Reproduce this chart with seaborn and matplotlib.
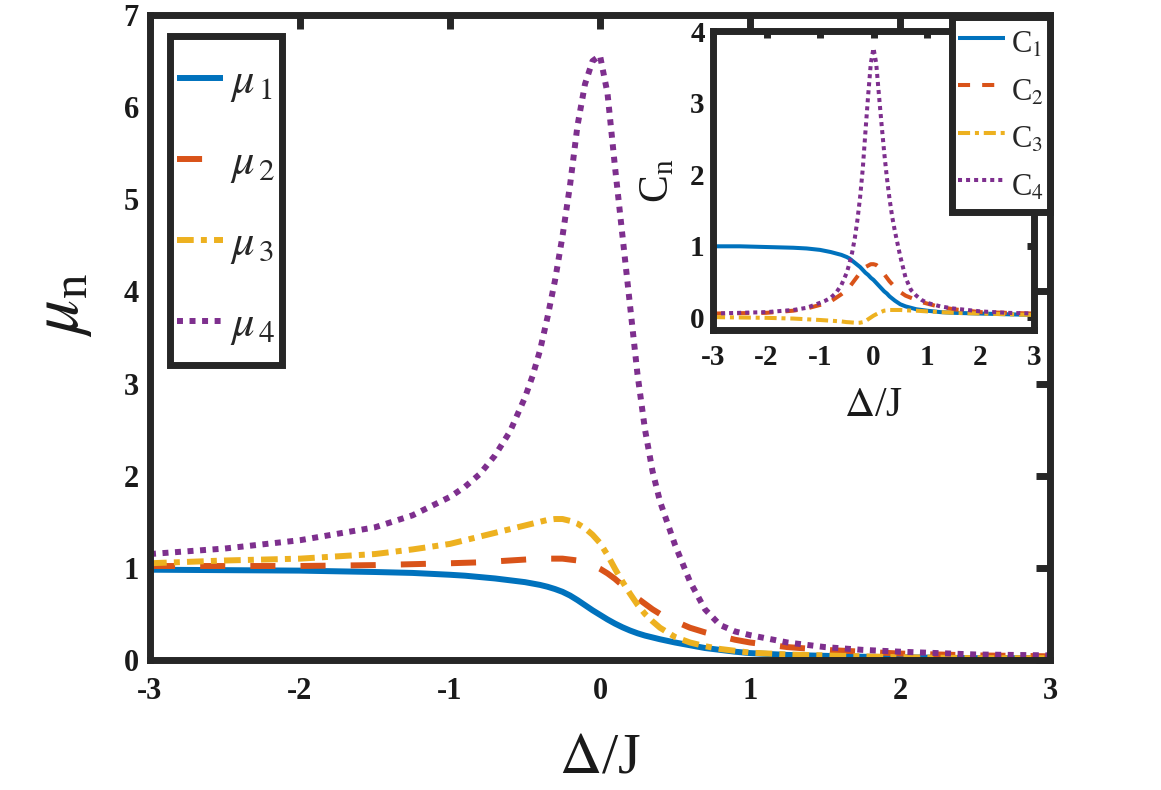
import numpy as np
import pandas as pd
import matplotlib
matplotlib.use("Agg")
import matplotlib.pyplot as plt
from matplotlib.legend_handler import HandlerLine2D
from matplotlib.lines import Line2D
import seaborn as sns

# ---------------- data ----------------
delta = [-3, -2.5, -2, -1.5, -1.25, -1, -0.9, -0.8, -0.7, -0.6, -0.5, -0.45, -0.4, -0.35,
         -0.3, -0.25, -0.2, -0.15, -0.1, -0.05, 0, 0.05, 0.1, 0.15, 0.2, 0.25, 0.3, 0.35,
         0.4, 0.5, 0.6, 0.7, 0.8, 0.9, 1.0, 1.25, 1.5, 1.75, 2, 2.5, 3]

mu1 = [0.98, 0.975, 0.97, 0.955, 0.945, 0.925, 0.915, 0.90, 0.885, 0.865, 0.845, 0.83, 0.815, 0.795,
       0.77, 0.74, 0.70, 0.65, 0.595, 0.54, 0.49, 0.44, 0.395, 0.355, 0.32, 0.29, 0.265, 0.245,
       0.225, 0.19, 0.16, 0.13, 0.11, 0.09, 0.075, 0.055, 0.045, 0.035, 0.03, 0.02, 0.02]
mu2 = [1.02, 1.02, 1.02, 1.03, 1.04, 1.05, 1.055, 1.06, 1.07, 1.08, 1.09, 1.095, 1.10, 1.10,
       1.10, 1.10, 1.09, 1.08, 1.06, 1.03, 0.99, 0.94, 0.88, 0.81, 0.74, 0.67, 0.61, 0.55,
       0.50, 0.42, 0.35, 0.30, 0.26, 0.22, 0.19, 0.14, 0.11, 0.09, 0.07, 0.05, 0.04]
mu3 = [1.05, 1.08, 1.10, 1.15, 1.20, 1.26, 1.30, 1.34, 1.38, 1.42, 1.46, 1.48, 1.50, 1.52,
       1.53, 1.53, 1.51, 1.48, 1.43, 1.36, 1.27, 1.14, 0.99, 0.85, 0.72, 0.60, 0.50, 0.42,
       0.35, 0.25, 0.19, 0.15, 0.12, 0.10, 0.08, 0.06, 0.05, 0.04, 0.03, 0.02, 0.02]
mu4 = [1.15, 1.21, 1.30, 1.44, 1.57, 1.77, 1.88, 2.02, 2.22, 2.48, 2.85, 3.08, 3.36, 3.72,
       4.12, 4.60, 5.15, 5.80, 6.25, 6.50, 6.56, 6.15, 5.35, 4.60, 3.85, 3.10, 2.50, 2.05,
       1.72, 1.25, 0.85, 0.55, 0.38, 0.31, 0.27, 0.19, 0.14, 0.11, 0.09, 0.06, 0.05]

c1 = [0.99, 0.99, 0.98, 0.97, 0.96, 0.94, 0.925, 0.91, 0.89, 0.87, 0.84, 0.82, 0.79, 0.76,
      0.73, 0.70, 0.66, 0.62, 0.59, 0.55, 0.52, 0.48, 0.44, 0.40, 0.36, 0.33, 0.29, 0.26,
      0.23, 0.18, 0.15, 0.13, 0.11, 0.10, 0.09, 0.07, 0.06, 0.055, 0.05, 0.04, 0.03]
c2 = [0.05, 0.055, 0.06, 0.09, 0.12, 0.17, 0.19, 0.22, 0.27, 0.32, 0.38, 0.42, 0.47, 0.52,
      0.57, 0.62, 0.66, 0.70, 0.72, 0.74, 0.74, 0.73, 0.70, 0.65, 0.60, 0.55, 0.50, 0.46,
      0.42, 0.35, 0.30, 0.27, 0.24, 0.21, 0.19, 0.14, 0.11, 0.09, 0.07, 0.06, 0.05]
c3 = [0.0, -0.005, -0.01, -0.02, -0.03, -0.04, -0.045, -0.05, -0.055, -0.06, -0.07, -0.072, -0.075, -0.078,
      -0.08, -0.078, -0.07, -0.055, -0.03, -0.005, 0.02, 0.04, 0.06, 0.075, 0.09, 0.095, 0.10, 0.10,
      0.10, 0.10, 0.095, 0.092, 0.09, 0.085, 0.08, 0.07, 0.06, 0.055, 0.05, 0.04, 0.03]
c4 = [0.05, 0.06, 0.07, 0.10, 0.13, 0.20, 0.23, 0.27, 0.34, 0.45, 0.62, 0.75, 0.90, 1.10,
      1.36, 1.68, 2.08, 2.60, 3.10, 3.55, 3.76, 3.55, 3.12, 2.70, 2.30, 1.95, 1.65, 1.40,
      1.20, 0.85, 0.55, 0.38, 0.30, 0.24, 0.20, 0.15, 0.12, 0.10, 0.08, 0.06, 0.05]

main_labels = [r'$\mu_{\,1}$', r'$\mu_{\,2}$', r'$\mu_{\,3}$', r'$\mu_{\,4}$']
inset_labels = [r'$\mathregular{C}_{1}$', r'$\mathregular{C}_{2}$',
                r'$\mathregular{C}_{3}$', r'$\mathregular{C}_{4}$']
x_ticks = [-3, -2, -1, 0, 1, 2, 3]
main_yticks = [0, 1, 2, 3, 4, 5, 6, 7]
inset_yticks = [0, 1, 2, 3, 4]

colors = ['#0072BD', '#D95319', '#EDB120', '#7E2F8E']

# ---------------- style ----------------
sns.set_theme(style='white')
plt.rcParams['font.family'] = ['Liberation Serif', 'DejaVu Serif']
plt.rcParams['mathtext.fontset'] = 'stix'
plt.rcParams['axes.unicode_minus'] = False
plt.rcParams['lines.solid_capstyle'] = 'butt'
plt.rcParams['lines.dash_capstyle'] = 'butt'

W, H = 1161, 790
fig = plt.figure(figsize=(W / 100, H / 100), dpi=100)
fig.patch.set_facecolor('white')

spine_c = '#262626'
txt_c = '#1a1a1a'

main_styles = ['-', (0, (4.2, 4.2)), (0, (2.8, 1.2, 1.0, 1.2)), (0, (1.0, 1.1))]
inset_styles = ['-', (0, (3.0, 3.0)), (0, (3.0, 1.2, 1.0, 1.2)), (0, (1.0, 1.0))]

df_main = pd.DataFrame({'delta': delta, 'mu1': mu1, 'mu2': mu2, 'mu3': mu3, 'mu4': mu4})
df_in = pd.DataFrame({'delta': delta, 'c1': c1, 'c2': c2, 'c3': c3, 'c4': c4})


def hh_for(row_px, fs_px):
    # legend row height = fs*(0.65*hh + 0.245)
    return (row_px / fs_px - 0.245) / 0.65


class ShiftedLineHandler(HandlerLine2D):
    """Legend line handle moved down by dy points inside its box."""

    def __init__(self, dy_pt=0.0, **kw):
        super().__init__(**kw)
        self.dy_pt = dy_pt

    def create_artists(self, legend, orig_handle, xdescent, ydescent, width, height,
                       fontsize, trans):
        arts = super().create_artists(legend, orig_handle, xdescent, ydescent, width,
                                      height, fontsize, trans)
        for a in arts:
            a.set_ydata(np.asarray(a.get_ydata(), dtype=float) - self.dy_pt)
        return arts


# ---------------- main axes ----------------
ax = fig.add_axes([150 / W, 1 - 660 / H, 900 / W, 645 / H])
for i, col in enumerate(['mu1', 'mu2', 'mu3', 'mu4']):
    sns.lineplot(data=df_main, x='delta', y=col, ax=ax, color=colors[i], linewidth=4.3,
                 linestyle=main_styles[i], label=main_labels[i], sort=False, estimator=None)
ax.set_xlim(-3, 3)
ax.set_ylim(0, 7)
ax.set_xticks(x_ticks)
ax.set_xticklabels([str(t) for t in x_ticks])
ax.set_yticks(main_yticks)
ax.set_yticklabels([str(t) for t in main_yticks])
for s in ax.spines.values():
    s.set_visible(True)
    s.set_linewidth(5)
    s.set_color(spine_c)
ax.tick_params(direction='in', length=10, width=5, color=spine_c, top=True, right=True,
               labelsize=22, labelcolor=txt_c)
ax.tick_params(axis='x', pad=12)
ax.tick_params(axis='y', pad=8)
for lab in ax.get_xticklabels() + ax.get_yticklabels():
    lab.set_fontweight('bold')
ax.set_xlabel(r'$\Delta$/J', fontsize=42, color=txt_c)
ax.set_ylabel(r'$\mu_{\mathregular{n}}$', fontsize=50, color=txt_c)
ax.xaxis.set_label_coords(0.5, -0.112)
ax.yaxis.set_label_coords(-0.062, 0.55)

fs_m = 32 * 100 / 72.0
leg = ax.legend(loc='upper left', bbox_to_anchor=(170 / W, 1 - 36 / H),
                bbox_transform=fig.transFigure, borderaxespad=0, fontsize=32,
                handlelength=46 / fs_m, handleheight=hh_for(72, fs_m), handletextpad=7 / fs_m,
                labelspacing=9 / fs_m, borderpad=7 / fs_m,
                handler_map={Line2D: ShiftedLineHandler(dy_pt=7.0)},
                frameon=True, fancybox=False)
leg.get_frame().set_linewidth(5)
leg.get_frame().set_edgecolor(spine_c)
leg.get_frame().set_facecolor('white')
leg.get_frame().set_alpha(1)

# ---------------- inset axes ----------------
axi = fig.add_axes([713 / W, 1 - 330 / H, 321 / W, 299 / H])
axi.set_zorder(5)
axi.set_facecolor('white')
for i, col in enumerate(['c1', 'c2', 'c3', 'c4']):
    sns.lineplot(data=df_in, x='delta', y=col, ax=axi, color=colors[i], linewidth=2.9,
                 linestyle=inset_styles[i], label=inset_labels[i], sort=False, estimator=None)
axi.set_xlim(-3, 3)
axi.set_ylim(-0.18, 4)
axi.set_xticks(x_ticks)
axi.set_xticklabels([str(t) for t in x_ticks])
axi.set_yticks(inset_yticks)
axi.set_yticklabels([str(t) for t in inset_yticks])
for s in axi.spines.values():
    s.set_visible(True)
    s.set_linewidth(5)
    s.set_color(spine_c)
axi.tick_params(direction='in', length=5, width=5, color=spine_c, top=True, right=True,
                labelsize=21, labelcolor=txt_c)
axi.tick_params(axis='x', pad=10)
axi.tick_params(axis='y', pad=6)
for lab in axi.get_xticklabels() + axi.get_yticklabels():
    lab.set_fontweight('bold')
axi.set_xlabel(r'$\Delta$/J', fontsize=30, color=txt_c)
axi.set_ylabel(r'$\mathregular{C}_{\mathregular{n}}$', fontsize=30, color=txt_c)
axi.xaxis.set_label_coords(0.5, -0.19)
axi.yaxis.set_label_coords(-0.112, 0.5)

fs_i = 22 * 100 / 72.0
legi = axi.legend(loc='upper right', bbox_to_anchor=(1050 / W, 1 - 16.5 / H),
                  bbox_transform=fig.transFigure, borderaxespad=0, fontsize=22,
                  handlelength=47 / fs_i, handleheight=hh_for(41, fs_i), handletextpad=6 / fs_i,
                  labelspacing=6.5 / fs_i, borderpad=6 / fs_i,
                  frameon=True, fancybox=False)
legi.get_frame().set_linewidth(5)
legi.get_frame().set_edgecolor(spine_c)
legi.get_frame().set_facecolor('white')
legi.get_frame().set_alpha(1)

fig.savefig('out.png', dpi=100)
